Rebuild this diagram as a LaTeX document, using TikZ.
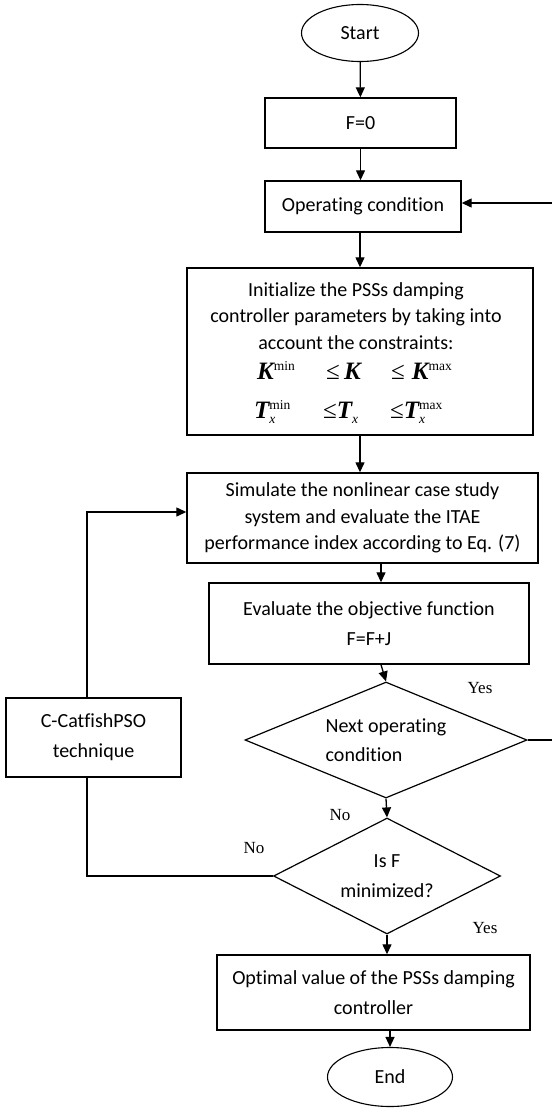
\documentclass[tikz,border=0pt]{standalone}
\usepackage{fontspec}
\setmainfont{Carlito}[Ligatures=NoCommon]
\newfontfamily\tnr{Liberation Serif}
\usetikzlibrary{arrows.meta,shapes.geometric,calc}
\tikzset{
 box/.style={draw, line width=1.4bp, rectangle, inner sep=0pt},
 term/.style={draw, line width=1.1bp, ellipse, inner sep=0pt},
 dec/.style={draw, line width=1.2bp, diamond, inner sep=0pt, aspect=2},
 conn/.style={line width=1.3bp},
 arr/.style={conn, -{Triangle[length=10bp,width=9bp]}},
 lbl/.style={font=\tnr\fontsize{17bp}{17bp}\selectfont, inner sep=0pt},
 mth/.style={font=\tnr\fontsize{25bp}{25bp}\selectfont, inner sep=0pt, anchor=base west},
 wide/.style={font=\fontsize{20bp}{30bp}\selectfont, align=center},
 tight/.style={font=\fontsize{20bp}{26.5bp}\selectfont, align=center, inner sep=0pt},
}
\newcommand{\bik}[1]{{\bfseries\itshape #1}}
\newcommand{\smtxt}[1]{{\fontsize{13.5bp}{14bp}\selectfont #1}}
\newcommand{\supsub}[2]{\raisebox{-5bp}{\smtxt{\begin{tabular}[b]{@{}l@{}}#1\\\itshape #2\end{tabular}}}}
\begin{document}
\begin{tikzpicture}[x=1bp,y=-1bp]
\useasboundingbox (0,0) rectangle (552,1108);
% terminals and boxes
\node[term, minimum width=117bp, minimum height=57bp, wide] (start) at (360,33) {Start};
\node[box, minimum width=191bp, minimum height=50bp, wide] (f0) at (360.5,123) {F=0};
\node[box, minimum width=196bp, minimum height=51bp, wide] (opc) at (363,206.5) {Operating condition};
\node[box, minimum width=346bp, minimum height=167bp] (init) at (360,351.5) {};
\node[tight] (inittxt) at (356,316) {Initialize the PSSs damping\\controller parameters by taking into\\account the constraints:};
\node[mth] (k1) at (257,379) {\bik{K}\raisebox{9bp}{\smtxt{min}}};
\node[mth] (k2) at (326,379) {≤\,\bik{K}};
\node[mth] (k3) at (391,379) {≤\;\bik{K}\raisebox{9bp}{\smtxt{max}}};
\node[mth] (t1) at (254,418) {\bik{T}\supsub{min}{x}};
\node[mth] (t2) at (323,418) {≤\bik{T}\raisebox{-5bp}{\smtxt{\itshape x}}};
\node[mth] (t3) at (390,418) {≤\bik{T}\supsub{max}{x}};
\node[box, minimum width=351bp, minimum height=90bp, tight] (sim) at (362.5,518) {Simulate the nonlinear case study\\system and evaluate the ITAE\\performance index according to Eq. (7)};
\node[box, minimum width=320bp, minimum height=81bp, wide] (eval) at (369,623.5) {Evaluate the objective function\\F=F+J};
\node[dec, minimum width=282bp, minimum height=116bp, font=\fontsize{20bp}{29bp}\selectfont, align=left] (d1) at (386,740) {Next operating\\condition};
\node[dec, minimum width=227bp, minimum height=116bp, wide] (d2) at (387,876) {Is F\\minimized?};
\node[box, minimum width=313bp, minimum height=75bp, wide] (opt) at (373.5,992.5) {Optimal value of the PSSs damping\\controller};
\node[term, minimum width=125bp, minimum height=59bp, wide] (end) at (390,1077) {End};
\node[box, minimum width=175bp, minimum height=79bp, wide] (cat) at (93.5,737.5) {C-CatfishPSO\\technique};
% labels
\node[lbl] (yes1) at (480,688) {Yes};
\node[lbl] (no1) at (340,815) {No};
\node[lbl] (no2) at (254,848) {No};
\node[lbl] (yes2) at (485,928) {Yes};
% connectors
\draw[arr] (start) -- (f0);
\draw[arr] (f0.south) -- (f0.south |- opc.north);
\draw[arr] (opc.south -| init.north) -- (init.north);
\draw[arr] (init.south) -- (init.south |- sim.north);
\draw[arr] ([xshift=-5bp]sim.south -| d1.north) -- ([xshift=-5bp]eval.north -| d1.north);
\draw[arr] ([xshift=-5bp]eval.south -| d1.north) -- (d1.north);
\draw[arr] (d1.south) -- (d2.north);
\draw[arr] (d2.south) -- (d2.south |- opt.north);
\draw[arr] (opt.south -| end.north) -- (end.north);
\coordinate (rt) at (553.6,0);
\coordinate (opcin) at ([yshift=3.5bp]opc.east);
\draw[arr] (d1.east) -- (d1.east -| rt) -- (rt |- opcin) -- (opcin);
\draw[conn] (d2.west) -| ([xshift=-6.5bp]cat.south);
\draw[arr] ([xshift=-6.5bp]cat.north) |- ([yshift=6bp]sim.west);
\end{tikzpicture}
\end{document}
